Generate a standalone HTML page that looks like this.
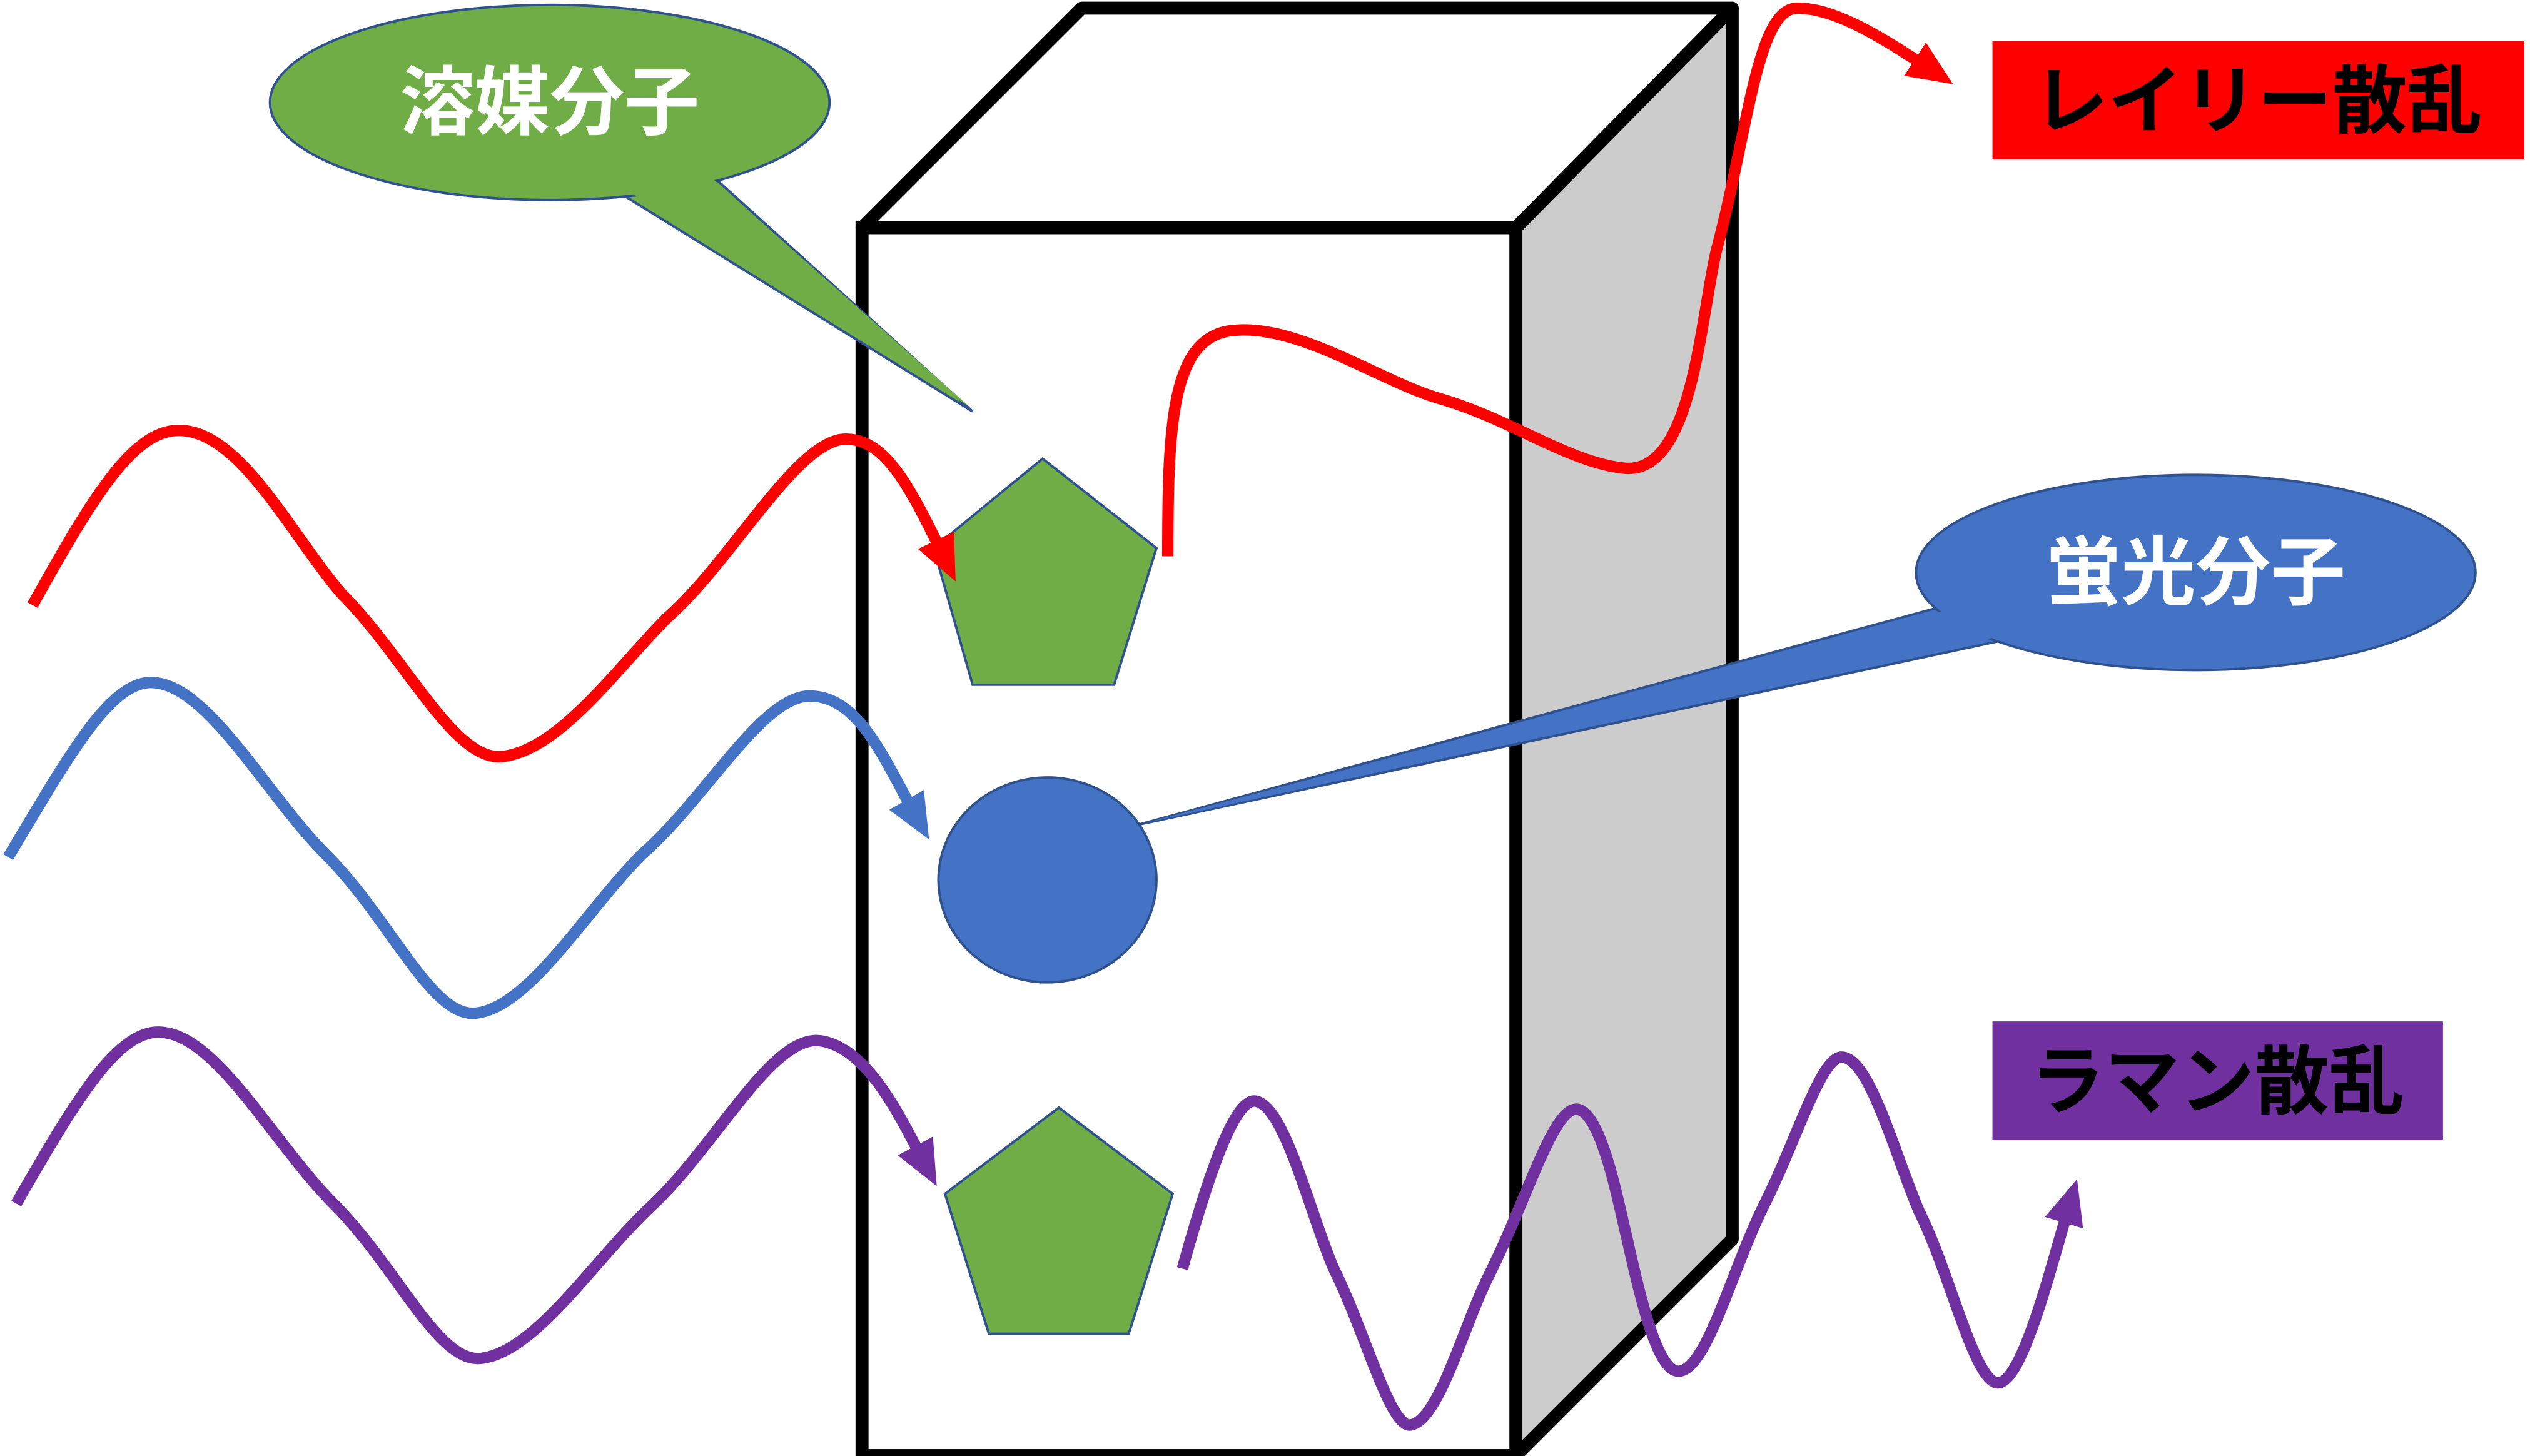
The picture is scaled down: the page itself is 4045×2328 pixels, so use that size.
<!DOCTYPE html>
<html><head><meta charset="utf-8"><style>
html,body{margin:0;padding:0;background:#fff;}
svg{display:block;}
text{font-family:"Liberation Sans","Noto Sans CJK JP",sans-serif;font-weight:bold;}
</style></head><body>
<svg width="4045" height="2328" viewBox="0 0 1555.5 895.2" preserveAspectRatio="none" xmlns="http://www.w3.org/2000/svg">
<defs>
<marker id="ar" markerWidth="4" markerHeight="3.5" refX="2.5" refY="1.75" orient="auto" markerUnits="strokeWidth"><path d="M0,0 L4,1.75 L0,3.5 Z" fill="#ff0000"/></marker>
<marker id="ab" markerWidth="4" markerHeight="3.5" refX="2.5" refY="1.75" orient="auto" markerUnits="strokeWidth"><path d="M0,0 L4,1.75 L0,3.5 Z" fill="#4472c4"/></marker>
<marker id="ap" markerWidth="4" markerHeight="3.5" refX="2.5" refY="1.75" orient="auto" markerUnits="strokeWidth"><path d="M0,0 L4,1.75 L0,3.5 Z" fill="#7030a0"/></marker>
</defs>
<!-- box -->
<polygon points="932,140 1065,5 1065,762 932,895" fill="#cccccc" stroke="#000" stroke-width="8" stroke-linejoin="round"/>
<polygon points="530,140 665,5 1065,5 932,140" fill="#fff" stroke="#000" stroke-width="8" stroke-linejoin="round"/>
<rect x="530" y="140" width="402" height="755" fill="#fff" stroke="#000" stroke-width="8"/>

<!-- green callout -->
<polygon points="380,118 598,253 440,110" fill="#70ad47" stroke="#2f528f" stroke-width="1.5"/>
<ellipse cx="338" cy="63" rx="172" ry="60" fill="#70ad47" stroke="#2f528f" stroke-width="1.5"/>
<polygon points="384,116 596,250 436,108" fill="#70ad47"/>
<text x="338" y="79" font-size="46" fill="#fff" text-anchor="middle">溶媒分子</text>

<!-- blue callout -->
<polygon points="1190,374 700,507 1230,394" fill="#4472c4" stroke="#2f528f" stroke-width="1.5"/>
<ellipse cx="1350" cy="352" rx="172" ry="60" fill="#4472c4" stroke="#2f528f" stroke-width="1.5"/>
<polygon points="1194,376 704,506 1226,392" fill="#4472c4"/>
<text x="1350" y="368" font-size="46" fill="#fff" text-anchor="middle">蛍光分子</text>

<!-- molecules -->
<polygon points="641,282 711,337 685,421 598,421 574,337" fill="#70ad47" stroke="#2f528f" stroke-width="1.5"/>
<ellipse cx="644" cy="541" rx="67" ry="63" fill="#4472c4" stroke="#2f528f" stroke-width="1.5"/>
<polygon points="651,681 721,734 694,820 608,820 581,734" fill="#70ad47" stroke="#2f528f" stroke-width="1.5"/>

<!-- waves -->
<g fill="none" stroke-width="7" stroke-linecap="butt">
<path stroke="#ff0000" marker-end="url(#ar)" d="M20,372 C60,300 85,260 115,265 C150,270 180,330 210,365 C250,405 280,470 310,465 C345,460 380,410 410,380 C450,345 490,270 520,270 C545,270 560,300 583,348"/>
<path stroke="#ff0000" marker-end="url(#ar)" d="M718,342 C718,260 720,205 760,203 C800,200 850,235 885,245 C930,258 965,285 1000,288 C1040,290 1045,200 1055,155 C1075,80 1080,5 1105,5 C1130,5 1160,25 1192,46"/>
<path stroke="#4472c4" marker-end="url(#ab)" d="M5,527 C45,460 70,415 97,420 C130,425 165,490 200,525 C240,565 265,625 292,623 C325,620 360,560 395,525 C435,490 470,425 500,428 C530,430 545,470 566,507"/>
<path stroke="#7030a0" marker-end="url(#ap)" d="M10,740 C50,670 75,630 102,635 C135,640 170,705 205,740 C245,780 270,840 297,835 C330,830 365,775 400,742 C440,705 475,635 505,640 C535,645 555,690 571,720"/>
<path stroke="#7030a0" marker-end="url(#ap)" d="M727,780 C745,715 760,675 772,677 C790,680 805,745 820,780 C840,820 855,880 868,876 C885,872 900,815 915,785 C940,735 955,680 970,682 C985,685 995,740 1000,760 C1010,805 1020,845 1033,843 C1050,840 1065,780 1085,740 C1105,700 1120,648 1133,650 C1150,652 1165,710 1180,745 C1200,785 1215,855 1230,850 C1245,845 1262,775 1274,735"/>
</g>

<!-- labels -->
<rect x="1225" y="25" width="327" height="73" fill="#ff0000"/>
<text x="1388" y="78" font-size="46" fill="#000" text-anchor="middle">レイリー散乱</text>
<rect x="1225" y="628" width="277" height="73" fill="#7030a0"/>
<text x="1363" y="681" font-size="46" fill="#000" text-anchor="middle">ラマン散乱</text>
</svg>
</body></html>
